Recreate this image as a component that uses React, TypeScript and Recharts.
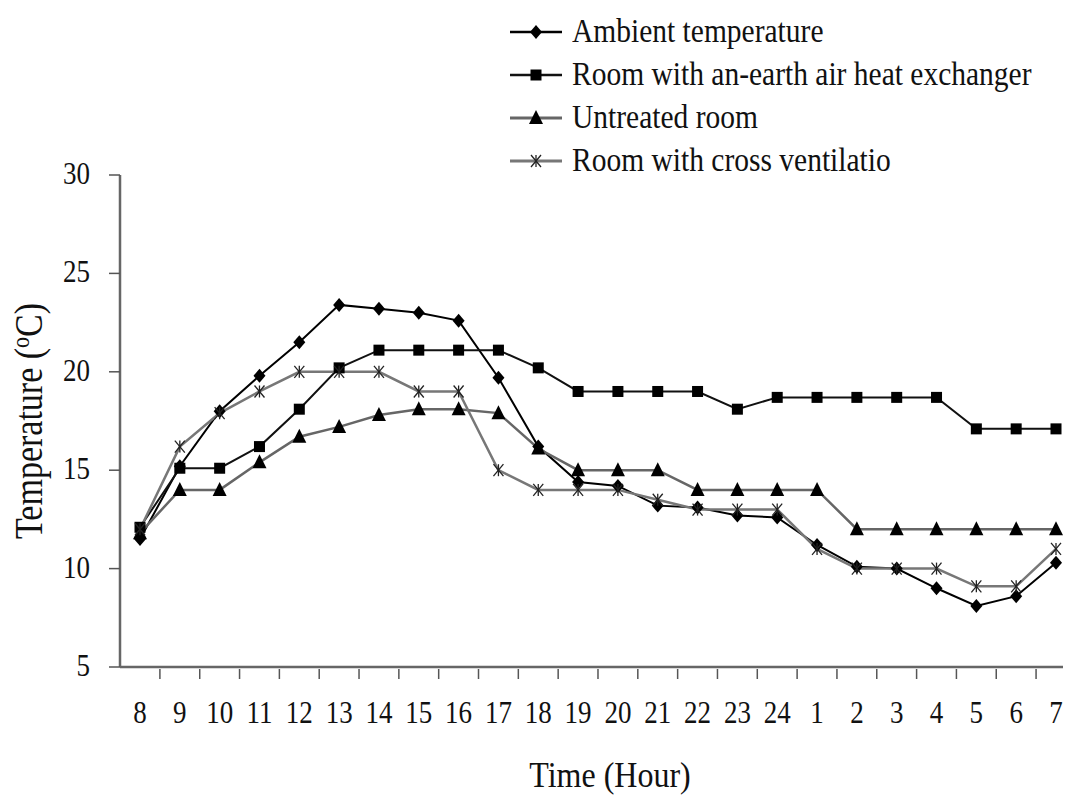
import React from 'react';
import { LineChart, Line, XAxis, YAxis, Label } from 'recharts';

// hours of the day, starting at 8 in the morning
const hours = ['8', '9', '10', '11', '12', '13', '14', '15', '16', '17', '18', '19', '20', '21', '22', '23', '24', '1', '2', '3', '4', '5', '6', '7'];
const ambient = [11.5, 15.2, 18.0, 19.8, 21.5, 23.4, 23.2, 23.0, 22.6, 19.7, 16.2, 14.4, 14.2, 13.2, 13.1, 12.7, 12.6, 11.2, 10.1, 10.0, 9.0, 8.1, 8.6, 10.3];
const exchanger = [12.1, 15.1, 15.1, 16.2, 18.1, 20.2, 21.1, 21.1, 21.1, 21.1, 20.2, 19.0, 19.0, 19.0, 19.0, 18.1, 18.7, 18.7, 18.7, 18.7, 18.7, 17.1, 17.1, 17.1];
const untreated = [11.8, 14.0, 14.0, 15.4, 16.7, 17.2, 17.8, 18.1, 18.1, 17.9, 16.1, 15.0, 15.0, 15.0, 14.0, 14.0, 14.0, 14.0, 12.0, 12.0, 12.0, 12.0, 12.0, 12.0];
const crossVent = [12.0, 16.2, 17.9, 19.0, 20.0, 20.0, 20.0, 19.0, 19.0, 15.0, 14.0, 14.0, 14.0, 13.5, 13.0, 13.0, 13.0, 11.0, 10.0, 10.0, 10.0, 9.1, 9.1, 11.0];
const yTicks = [5, 10, 15, 20, 25, 30];

const data = hours.map((h, i) => ({
  hour: h,
  ambient: ambient[i],
  exchanger: exchanger[i],
  untreated: untreated[i],
  crossVent: crossVent[i],
}));

const FONT = '"Liberation Serif", "Times New Roman", serif';
const STRETCH = 1.15;
const HALF_BAND = 19.9;

type Shape = 'diamond' | 'square' | 'triangle' | 'star';

const series: { key: string; name: string; color: string; width: number; shape: Shape }[] = [
  { key: 'ambient', name: 'Ambient temperature', color: '#000', width: 2, shape: 'diamond' },
  { key: 'exchanger', name: 'Room with an-earth air heat exchanger', color: '#111', width: 2, shape: 'square' },
  { key: 'untreated', name: 'Untreated room', color: '#666', width: 2.5, shape: 'triangle' },
  { key: 'crossVent', name: 'Room with cross ventilatio', color: '#777', width: 2.5, shape: 'star' },
];

function marker(shape: Shape, cx: number, cy: number, k?: string | number) {
  if (shape === 'diamond') {
    return <path key={k} d={`M${cx},${cy - 7}L${cx + 6},${cy}L${cx},${cy + 7}L${cx - 6},${cy}Z`} fill="#000" />;
  }
  if (shape === 'square') {
    return <rect key={k} x={cx - 5.5} y={cy - 5.5} width={11} height={11} fill="#000" />;
  }
  if (shape === 'triangle') {
    return <path key={k} d={`M${cx},${cy - 8}L${cx + 7},${cy + 6}L${cx - 7},${cy + 6}Z`} fill="#000" />;
  }
  return (
    <g key={k} stroke="#222" strokeWidth={1.3}>
      <line x1={cx - 5} y1={cy - 6} x2={cx + 5} y2={cy + 6} />
      <line x1={cx - 5} y1={cy + 6} x2={cx + 5} y2={cy - 6} />
      <line x1={cx} y1={cy - 6} x2={cx} y2={cy + 6} />
    </g>
  );
}

const XTick = (props: any) => {
  const { x, y, payload } = props;
  return (
    <g>
      <line x1={x + HALF_BAND} x2={x + HALF_BAND} y1={y} y2={y + 10} stroke="#555" strokeWidth={1.5} />
      <text
        transform={`translate(${x},${y + 54}) scale(1,${STRETCH})`}
        textAnchor="middle"
        fontFamily={FONT}
        fontSize={27}
        fill="#111"
      >
        {payload.value}
      </text>
    </g>
  );
};

const YTick = (props: any) => {
  const { x, y, payload } = props;
  return (
    <text
      transform={`translate(${x},${y + 9}) scale(1,${STRETCH})`}
      textAnchor="end"
      fontFamily={FONT}
      fontSize={27}
      fill="#111"
    >
      {payload.value}
    </text>
  );
};

function LegendBox() {
  return (
    <div style={{ position: 'absolute', left: 508, top: 10, fontFamily: FONT }}>
      {series.map((s) => (
        <div key={s.key} style={{ display: 'flex', alignItems: 'center', height: 43 }}>
          <svg width={56} height={24}>
            <line x1={2} x2={54} y1={12} y2={12} stroke={s.color} strokeWidth={s.width + 0.5} />
            {marker(s.shape, 28, 12)}
          </svg>
          <span
            style={{
              fontSize: 29.5,
              marginLeft: 8,
              color: '#111',
              whiteSpace: 'nowrap',
              display: 'inline-block',
              transform: `scaleY(${STRETCH})`,
            }}
          >
            {s.name}
          </span>
        </div>
      ))}
    </div>
  );
}

export default function App() {
  return (
    <div style={{ position: 'relative', marginLeft: -8, marginTop: -8, width: 1071, height: 799, overflow: 'hidden', background: '#fff' }}>
      <LineChart
        width={1090}
        height={799}
        data={data}
        margin={{ top: 175, right: 14, left: 0, bottom: 10 }}
      >
        <XAxis
          dataKey="hour"
          interval={0}
          padding={{ left: 20, right: 20 }}
          tick={<XTick />}
          tickLine={false}
          tickSize={0}
          height={122}
          axisLine={{ stroke: '#666', strokeWidth: 2.5 }}
        >
          <Label
            content={(p: any) => {
              const vb = p.viewBox;
              return (
                <text
                  transform={`translate(${vb.x + vb.width / 2 + 12},${vb.y + 120}) scale(1,${STRETCH})`}
                  textAnchor="middle"
                  fontFamily={FONT}
                  fontSize={32}
                  fill="#111"
                >
                  Time (Hour)
                </text>
              );
            }}
          />
        </XAxis>
        <YAxis
          domain={[5, 30]}
          ticks={yTicks}
          width={120}
          tickSize={11}
          tickMargin={19}
          tick={<YTick />}
          tickLine={{ stroke: '#555', strokeWidth: 1.5 }}
          axisLine={{ stroke: '#666', strokeWidth: 2.5 }}
        >
          <Label
            content={(p: any) => {
              const vb = p.viewBox;
              const cy = vb.y + vb.height / 2;
              return (
                <text
                  transform={`translate(42,${cy}) rotate(-90) scale(1,${STRETCH})`}
                  textAnchor="middle"
                  fontFamily={FONT}
                  fontSize={34}
                  fill="#111"
                >
                  Temperature (
                  <tspan dy={-11} fontSize={22}>o</tspan>
                  <tspan dy={11}>C)</tspan>
                </text>
              );
            }}
          />
        </YAxis>
        {series.map((s) => (
          <Line
            key={s.key}
            dataKey={s.key}
            name={s.name}
            type="linear"
            stroke={s.color}
            strokeWidth={s.width}
            isAnimationActive={false}
            dot={(p: any) => marker(s.shape, p.cx, p.cy, `${s.key}-${p.index}`)}
            activeDot={false}
          />
        ))}
      </LineChart>
      <LegendBox />
    </div>
  );
}
